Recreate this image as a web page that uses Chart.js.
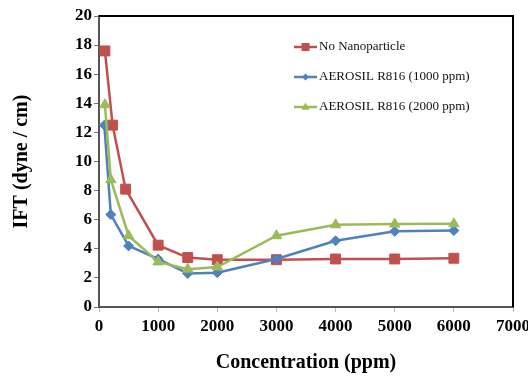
<!DOCTYPE html>
<html>
<head>
<meta charset="utf-8">
<title>IFT vs Concentration</title>
<script src="https://cdn.jsdelivr.net/npm/chart.js@4.4.1/dist/chart.umd.min.js"></script>
<style>
  html, body { margin: 0; padding: 0; background: #fff; }
  #wrap { width: 528px; height: 376px; }
</style>
</head>
<body>
<div id="wrap"><canvas id="iftChart" width="528" height="376"></canvas></div>
<script>
// values: x = concentration (ppm), y = IFT (dyne/cm)
const seriesNames = ['No Nanoparticle', 'AEROSIL R816 (1000 ppm)', 'AEROSIL R816 (2000 ppm)'];

const noNanoX = [100, 230, 450, 1000, 1500, 2000, 3000, 4000, 5000, 6000];
const noNanoY = [17.6, 12.5, 8.1, 4.25, 3.4, 3.25, 3.25, 3.3, 3.3, 3.35];

const r816LowX = [90, 200, 500, 1000, 1500, 2000, 3000, 4000, 5000, 6000];
const r816LowY = [12.5, 6.35, 4.2, 3.3, 2.3, 2.35, 3.3, 4.55, 5.2, 5.25];

const r816HighX = [100, 200, 500, 1000, 1500, 2000, 3000, 4000, 5000, 6000];
const r816HighY = [13.9, 8.75, 4.9, 3.1, 2.6, 2.75, 4.9, 5.65, 5.7, 5.72];

const xTicks = [0, 1000, 2000, 3000, 4000, 5000, 6000, 7000];
const yTicks = [0, 2, 4, 6, 8, 10, 12, 14, 16, 18, 20];

const RED = '#C0504D';
const BLUE = '#4F81BD';
const GREEN = '#9BBB59';
const FONT = "'Liberation Serif', 'Times New Roman', serif";

function toPoints(xs, ys) {
  return xs.map((x, i) => ({ x: x, y: ys[i] }));
}

function makeSet(label, xs, ys, color, style, radius, order) {
  return {
    label: label,
    data: toPoints(xs, ys),
    borderColor: color,
    backgroundColor: color,
    borderWidth: 2.5,
    pointStyle: style,
    pointRadius: radius,
    pointBorderWidth: 1,
    pointBackgroundColor: color,
    pointBorderColor: color,
    tension: 0,
    order: order
  };
}

// small shapes for the legend
function drawMarker(ctx, style, x, y, r, color) {
  ctx.fillStyle = color;
  ctx.beginPath();
  if (style === 'rect') {
    ctx.rect(x - r, y - r, 2 * r, 2 * r);
  } else if (style === 'rectRot') {
    ctx.moveTo(x, y - r);
    ctx.lineTo(x + r, y);
    ctx.lineTo(x, y + r);
    ctx.lineTo(x - r, y);
  } else {
    ctx.moveTo(x, y - r);
    ctx.lineTo(x + r * 0.9, y + r * 0.6);
    ctx.lineTo(x - r * 0.9, y + r * 0.6);
  }
  ctx.closePath();
  ctx.fill();
}

const frameAndLegend = {
  id: 'frameAndLegend',
  afterDraw(chart) {
    const ctx = chart.ctx;
    const a = chart.chartArea;
    ctx.save();
    // top and right border of the plot box
    ctx.strokeStyle = '#000';
    ctx.lineWidth = 2;
    ctx.beginPath();
    ctx.moveTo(a.left, a.top);
    ctx.lineTo(a.right, a.top);
    ctx.lineTo(a.right, a.bottom);
    ctx.stroke();

    // legend inside the plot
    const sizes = { rect: 4, rectRot: 3.5, triangle: 4.5 };
    ctx.font = "13px " + FONT;
    ctx.textBaseline = 'middle';
    ctx.textAlign = 'left';
    chart.data.datasets.forEach((ds, i) => {
      const y = 47 + i * 30;
      ctx.strokeStyle = ds.borderColor;
      ctx.lineWidth = 2.5;
      ctx.beginPath();
      ctx.moveTo(294, y);
      ctx.lineTo(317, y);
      ctx.stroke();
      drawMarker(ctx, ds.pointStyle, 305.5, y, sizes[ds.pointStyle], ds.borderColor);
      ctx.fillStyle = '#111';
      ctx.fillText(ds.label, 319, y);
    });
    ctx.restore();
  }
};

const ctx = document.getElementById('iftChart').getContext('2d');
new Chart(ctx, {
  type: 'line',
  data: {
    datasets: [
      makeSet(seriesNames[0], noNanoX, noNanoY, RED, 'rect', 7, 2),
      makeSet(seriesNames[1], r816LowX, r816LowY, BLUE, 'rectRot', 5, 1),
      makeSet(seriesNames[2], r816HighX, r816HighY, GREEN, 'triangle', 6, 0)
    ]
  },
  options: {
    responsive: false,
    animation: false,
    layout: { padding: { top: 16, right: 15, left: 0, bottom: 0 } },
    plugins: {
      legend: { display: false },
      tooltip: { enabled: false }
    },
    scales: {
      x: {
        type: 'linear',
        min: xTicks[0],
        max: xTicks[xTicks.length - 1],
        afterFit: s => { s.height = 69; s.paddingRight = 0; },
        afterBuildTicks: s => { s.ticks = xTicks.map(v => ({ value: v })); },
        ticks: {
          color: '#000',
          padding: 4,
          maxRotation: 0,
          callback: v => String(v),
          font: { family: FONT, size: 17, weight: 'bold' }
        },
        grid: { drawOnChartArea: false, drawTicks: true, tickLength: 5, color: '#bbb' },
        border: { color: '#555', width: 2 },
        title: {
          display: true,
          text: 'Concentration (ppm)',
          color: '#000',
          padding: { top: 0, bottom: 1 },
          font: { family: FONT, size: 20, weight: 'bold' }
        }
      },
      y: {
        min: yTicks[0],
        max: yTicks[yTicks.length - 1],
        afterFit: s => { s.width = 99; },
        afterBuildTicks: s => { s.ticks = yTicks.map(v => ({ value: v })); },
        ticks: {
          color: '#000',
          padding: 2,
          callback: v => String(v),
          font: { family: FONT, size: 17, weight: 'bold' }
        },
        grid: { drawOnChartArea: false, drawTicks: true, tickLength: 5, color: '#777' },
        border: { color: '#555', width: 2 },
        title: {
          display: true,
          text: 'IFT (dyne / cm)',
          color: '#000',
          padding: { top: 10, bottom: 0 },
          font: { family: FONT, size: 20, weight: 'bold' }
        }
      }
    }
  },
  plugins: [frameAndLegend]
});
</script>
</body>
</html>
